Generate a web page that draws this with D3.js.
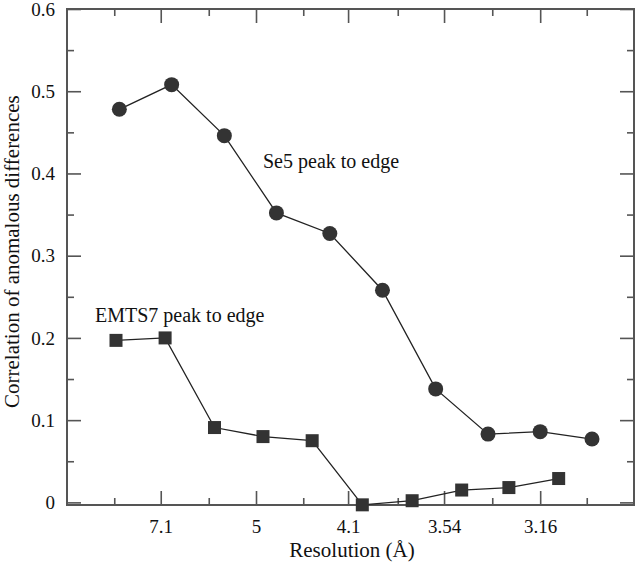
<!DOCTYPE html>
<html>
<head>
<meta charset="utf-8">
<script src="https://cdn.jsdelivr.net/npm/d3@7"></script>
<style>
  html, body { margin: 0; padding: 0; background: #fff; }
  svg text { font-family: 'Liberation Serif', 'DejaVu Serif', serif !important; fill: #111; }
</style>
</head>
<body>
<svg id="chart" width="640" height="565" font-family="Liberation Serif, DejaVu Serif, serif"></svg>
<script>
// ---- data (resolution in Å, correlation) ----
const se5Res  = [9.50, 6.72, 5.48, 4.75, 4.24, 3.87, 3.58, 3.35, 3.16, 3.00];
const se5Corr = [0.478, 0.508, 0.446, 0.352, 0.327, 0.258, 0.138, 0.083, 0.086, 0.077];
const emtsRes  = [9.82, 6.94, 5.66, 4.91, 4.39, 4.00, 3.70, 3.46, 3.27, 3.10];
const emtsCorr = [0.197, 0.200, 0.091, 0.080, 0.075, -0.003, 0.002, 0.015, 0.018, 0.029];

const xTickRes = [7.1, 5, 4.1, 3.54, 3.16];               // labelled resolution ticks
const xMinorInvD2 = [0.01, 0.03, 0.05, 0.07, 0.09, 0.11]; // minor ticks in 1/d^2
const yMajor = [0, 0.1, 0.2, 0.3, 0.4, 0.5, 0.6];
const yMinor = [0.05, 0.15, 0.25, 0.35, 0.45, 0.55];
const seriesLabels = ["Se5 peak to edge", "EMTS7 peak to edge"];

// ---- layout ----
const L = 67, R = 634, T = 9, B = 505;
const FONT = "'Liberation Serif', 'DejaVu Serif', serif";
const svg = d3.select("#chart");

const inv = d => 1 / (d * d);
const xs = d3.scaleLinear().domain([0, 0.12]).range([L, R]);
const ys = d3.scaleLinear().domain([-0.0032, 0.6]).range([B, T]);
const xr = d => xs(inv(d));

const frameColor = "#555";

function styleAxis(g) {
  g.attr("font-family", FONT);
  g.select(".domain").remove();
  g.selectAll(".tick line").attr("stroke", frameColor).attr("stroke-width", 1.6);
  g.selectAll(".tick text").style("font-family", FONT).attr("fill", "#111");
}

// bottom axis with labels
svg.append("g").attr("transform", `translate(0,${B})`)
  .call(d3.axisBottom(xs).tickValues(xTickRes.map(inv))
    .tickFormat((v, i) => String(xTickRes[i])).tickSizeInner(-14).tickSizeOuter(0).tickPadding(15))
  .call(styleAxis)
  .call(g => g.selectAll(".tick text").attr("font-size", 19));
svg.append("g").attr("transform", `translate(0,${B})`)
  .call(d3.axisBottom(xs).tickValues(xMinorInvD2).tickFormat("").tickSizeInner(-7).tickSizeOuter(0))
  .call(styleAxis);
// top axis
svg.append("g").attr("transform", `translate(0,${T})`)
  .call(d3.axisTop(xs).tickValues(xTickRes.map(inv)).tickFormat("").tickSizeInner(-14).tickSizeOuter(0))
  .call(styleAxis);
svg.append("g").attr("transform", `translate(0,${T})`)
  .call(d3.axisTop(xs).tickValues(xMinorInvD2).tickFormat("").tickSizeInner(-7).tickSizeOuter(0))
  .call(styleAxis);
// left axis with labels
svg.append("g").attr("transform", `translate(${L},0)`)
  .call(d3.axisLeft(ys).tickValues(yMajor).tickFormat(v => d3.format("~g")(v))
    .tickSizeInner(-14).tickSizeOuter(0).tickPadding(12))
  .call(styleAxis)
  .call(g => g.selectAll(".tick text").attr("font-size", 19));
svg.append("g").attr("transform", `translate(${L},0)`)
  .call(d3.axisLeft(ys).tickValues(yMinor).tickFormat("").tickSizeInner(-7).tickSizeOuter(0))
  .call(styleAxis);
// right axis
svg.append("g").attr("transform", `translate(${R},0)`)
  .call(d3.axisRight(ys).tickValues(yMajor).tickFormat("").tickSizeInner(-14).tickSizeOuter(0))
  .call(styleAxis);
svg.append("g").attr("transform", `translate(${R},0)`)
  .call(d3.axisRight(ys).tickValues(yMinor).tickFormat("").tickSizeInner(-7).tickSizeOuter(0))
  .call(styleAxis);

// frame
svg.append("rect").attr("x", L).attr("y", T).attr("width", R - L).attr("height", B - T)
  .attr("fill", "none").attr("stroke", frameColor).attr("stroke-width", 2);

// lines
const line = d3.line().x(p => xr(p[0])).y(p => ys(p[1]));
const se5 = se5Res.map((d, i) => [d, se5Corr[i]]);
const emts = emtsRes.map((d, i) => [d, emtsCorr[i]]);

svg.append("path").datum(se5).attr("d", line).attr("fill", "none")
  .attr("stroke", "#222").attr("stroke-width", 1.3);
svg.append("path").datum(emts).attr("d", line).attr("fill", "none")
  .attr("stroke", "#222").attr("stroke-width", 1.3);

// markers
svg.append("g").selectAll("circle").data(se5).join("circle")
  .attr("cx", p => xr(p[0])).attr("cy", p => ys(p[1])).attr("r", 7.5)
  .attr("fill", "#333");
const sq = 13;
svg.append("g").selectAll("rect").data(emts).join("rect")
  .attr("x", p => xr(p[0]) - sq / 2).attr("y", p => ys(p[1]) - sq / 2)
  .attr("width", sq).attr("height", sq).attr("fill", "#333");

// series labels
svg.append("text").attr("x", 263).attr("y", 168).attr("font-size", 20)
  .attr("font-family", FONT).text(seriesLabels[0]);
svg.append("text").attr("x", 95).attr("y", 322).attr("font-size", 20)
  .attr("font-family", FONT).text(seriesLabels[1]);

// axis titles
svg.append("text").attr("x", 352).attr("y", 557).attr("text-anchor", "middle")
  .attr("font-size", 21).attr("font-family", FONT).text("Resolution (Å)");
svg.append("text").attr("transform", `translate(19,408) rotate(-90)`)
  .attr("text-anchor", "start").attr("font-size", 21).attr("font-family", FONT)
  .text("Correlation of anomalous differences");
</script>
</body>
</html>
